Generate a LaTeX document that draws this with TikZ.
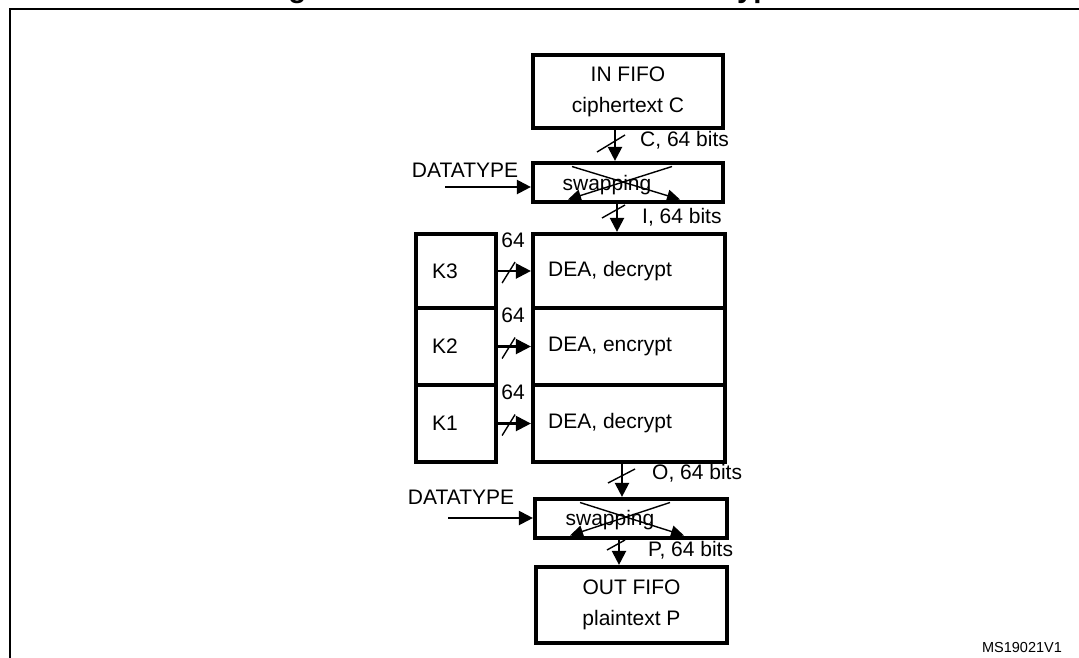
\documentclass[tikz,border=0pt]{standalone}
\usepackage{fontspec}
\setmainfont{Liberation Sans}
\usetikzlibrary{arrows.meta,calc}
\begin{document}
\begin{tikzpicture}[x=1pt,y=-1pt,
  box/.style={draw,line width=4.2pt,inner sep=0pt},
  lbl/.style={font=\fontsize{21}{25}\selectfont,inner sep=0pt},
  arr/.style={line width=2.2pt,-{Triangle[length=14pt,width=14pt]}},
  karr/.style={line width=2.2pt,-{Triangle[length=15pt,width=15pt]}},
  sw/.style={line width=1.4pt,-{Triangle[length=13pt,width=12pt]}},
  bus/.style={line width=1.4pt}]
\useasboundingbox (0,0) rectangle (1079,657);
% frame and (clipped) title
\draw[line width=2.5pt] (10,700) -- (10,9) -- (1100,9);
\node[font=\bfseries\fontsize{29.5}{34}\selectfont,anchor=base west,inner sep=0pt] (title) at (262,-3) {Figure 160. TDES-ECB mode decryption};
% boxes
\node[box,minimum width=190pt,minimum height=73pt,align=center,font=\fontsize{21}{31}\selectfont] (infifo) at (628,91.5) {IN FIFO\\ciphertext C};
\node[box,minimum width=190pt,minimum height=39pt] (swap1) at (628,182.5) {};
\node[box,minimum width=80pt,minimum height=74pt] (k3) at (456,271) {};
\node[box,minimum width=80pt,minimum height=77pt] (k2) at (456,346.5) {};
\node[box,minimum width=80pt,minimum height=77pt] (k1) at (456,423.5) {};
\node[box,minimum width=192pt,minimum height=74pt] (dea3) at (629,271) {};
\node[box,minimum width=192pt,minimum height=77pt] (dea2) at (629,346.5) {};
\node[box,minimum width=192pt,minimum height=77pt] (dea1) at (629,423.5) {};
\node[box,minimum width=192pt,minimum height=39pt] (swap2) at (631,518.5) {};
\node[box,minimum width=191pt,minimum height=76pt,align=center,font=\fontsize{21}{31}\selectfont] (outfifo) at (631.5,605) {OUT FIFO\\plaintext P};
% box texts
\node[lbl,anchor=west] (k3t) at (432,271) {K3};
\node[lbl,anchor=west] (k2t) at (432,346.5) {K2};
\node[lbl,anchor=west] (k1t) at (432,423.5) {K1};
\node[lbl,anchor=west] (d3t) at (548,271) {DEA, decrypt};
\node[lbl,anchor=west] (d2t) at (548,346.5) {DEA, encrypt};
\node[lbl,anchor=west] (d1t) at (548,423.5) {DEA, decrypt};
% swapping 1
\draw[sw] ($(swap1.center)+(-56,-16)$) -- ($(swap1.center)+(52,17)$);
\draw[sw] ($(swap1.center)+(44,-16)$) -- ($(swap1.center)+(-60,17)$);
\node[lbl] (s1t) at ($(swap1.center)+(-21,2.5)$) {swapping};
% swapping 2
\draw[sw] ($(swap2.center)+(-51,-16)$) -- ($(swap2.center)+(53,17)$);
\draw[sw] ($(swap2.center)+(39,-16)$) -- ($(swap2.center)+(-61,17)$);
\node[lbl] (s2t) at ($(swap2.center)+(-21,1.5)$) {swapping};
% datatype inputs
\node[lbl] (dt1) at (465,170) {DATATYPE};
\coordinate (dt1in) at (445,187);
\draw[arr] (dt1in) -- (dt1in -| swap1.west);
\node[lbl] (dt2) at (461,497) {DATATYPE};
\coordinate (dt2in) at (448,518);
\draw[arr] (dt2in) -- (dt2in -| swap2.west);
% C
\coordinate (c0) at ($(infifo.south)+(-13,0)$);
\draw[arr] (c0) -- (c0 |- swap1.north);
\draw[bus] (597,152) -- (625,135);
\node[lbl,anchor=west] (cl) at (640,140) {C, 64 bits};
% I
\coordinate (i0) at ($(swap1.south)+(-11,0)$);
\draw[arr] (i0) -- (i0 |- dea3.north);
\draw[bus] (602,218) -- (625,205);
\node[lbl,anchor=west] (il) at (642,217) {I, 64 bits};
% O
\coordinate (o0) at ($(dea1.south)+(-7,0)$);
\draw[arr] (o0) -- (o0 |- swap2.north);
\draw[bus] (608,483) -- (635,469);
\node[lbl,anchor=west] (ol) at (652,473) {O, 64 bits};
% P
\coordinate (p0) at ($(swap2.south)+(-12,0)$);
\draw[arr] (p0) -- (p0 |- outfifo.north);
\draw[bus] (607,550) -- (625,540);
\node[lbl,anchor=west] (pl) at (648,550) {P, 64 bits};
% key arrows
\foreach \k/\d in {k3/dea3,k2/dea2,k1/dea1}{
  \draw[karr] (\k.east) -- (\k.east -| \d.west);
  \draw[bus] ($(\k.east)+(4,12)$) -- ++(13,-21);
  \node[lbl] (n\k) at ($(\k.east)+(15,-31)$) {64};
}
% id
\node[font=\fontsize{14.5}{17}\selectfont,inner sep=0pt] (ms) at (1022,647) {MS19021V1};
\end{tikzpicture}
\end{document}
